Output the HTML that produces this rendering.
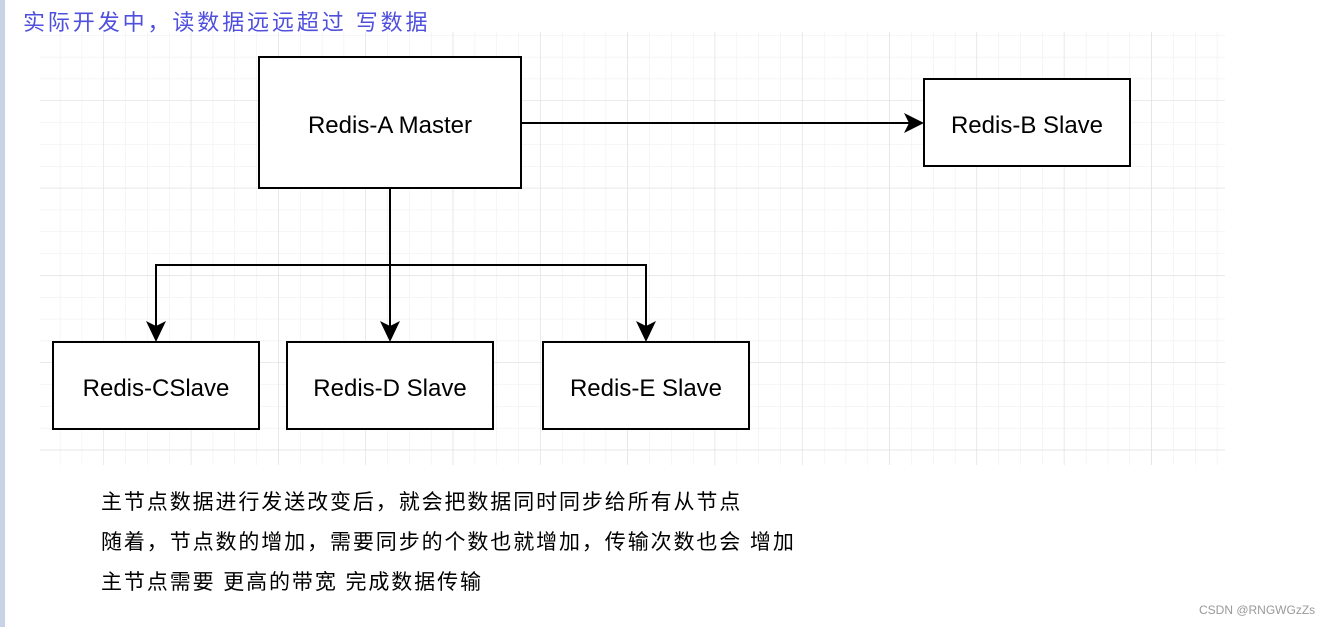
<!DOCTYPE html>
<html><head><meta charset="utf-8"><style>
body{margin:0;width:1332px;height:627px;background:#fff;position:relative;overflow:hidden;font-family:"Liberation Sans","Noto Sans CJK SC",sans-serif}
.t{position:absolute;white-space:nowrap}
</style></head><body>
<div style="position:absolute;left:0;top:0;width:5px;height:627px;background:#c9d3e6"></div>
<div class="t" style="left:23px;top:5px;font-size:22px;letter-spacing:2.9px;color:#4f4fdd">实际开发中，读数据远远超过 写数据</div>
<svg width="1332" height="627" style="position:absolute;left:0;top:0">
<defs>
<pattern id="mi" x="16.7" y="13.7" width="21.83" height="21.83" patternUnits="userSpaceOnUse"><path d="M21.83 0V21.83M0 21.83H21.83" stroke="#ececec" stroke-width="1" fill="none"/></pattern>
<pattern id="ma" x="16.7" y="13.7" width="87.3" height="87.3" patternUnits="userSpaceOnUse"><path d="M87.3 0V87.3M0 87.3H87.3" stroke="#dadada" stroke-width="1" fill="none"/></pattern>
</defs>
<rect x="40" y="32" width="1185" height="433" fill="url(#mi)"/>
<rect x="40" y="32" width="1185" height="433" fill="url(#ma)"/>
<g stroke="#000" stroke-width="2" fill="#fff">
<rect x="259" y="57" width="262" height="131"/>
<rect x="924" y="79" width="206" height="87"/>
<rect x="53" y="342" width="206" height="87"/>
<rect x="287" y="342" width="206" height="87"/>
<rect x="543" y="342" width="206" height="87"/>
</g>
<g stroke="#000" stroke-width="2" fill="none">
<path d="M521 123H910"/>
<path d="M390 188V328"/>
<path d="M156 328V265H646V328"/>
</g>
<g fill="#000">
<path d="M924 123L904 113L909 123L904 133Z"/>
<path d="M390 342L380 321L390 326L400 321Z"/>
<path d="M156 342L146 321L156 326L166 321Z"/>
<path d="M646 342L636 321L646 326L656 321Z"/>
</g>
<g font-family="Liberation Sans,sans-serif" font-size="24" text-anchor="middle" fill="#000">
<text x="390" y="133">Redis-A Master</text>
<text x="1027" y="133">Redis-B Slave</text>
<text x="156" y="396">Redis-CSlave</text>
<text x="390" y="396">Redis-D Slave</text>
<text x="646" y="396">Redis-E Slave</text>
</g>
</svg>
<div class="t" style="left:101px;top:486px;font-size:21px;letter-spacing:1.9px;color:#000">主节点数据进行发送改变后，就会把数据同时同步给所有从节点</div>
<div class="t" style="left:101px;top:526px;font-size:21px;letter-spacing:1.9px;color:#000">随着，节点数的增加，需要同步的个数也就增加，传输次数也会 增加</div>
<div class="t" style="left:101px;top:566px;font-size:21px;letter-spacing:1.9px;color:#000">主节点需要 更高的带宽 完成数据传输</div>
<div class="t" style="left:1199px;top:603px;font-size:12px;color:#999">CSDN @RNGWGzZs</div>
</body></html>
